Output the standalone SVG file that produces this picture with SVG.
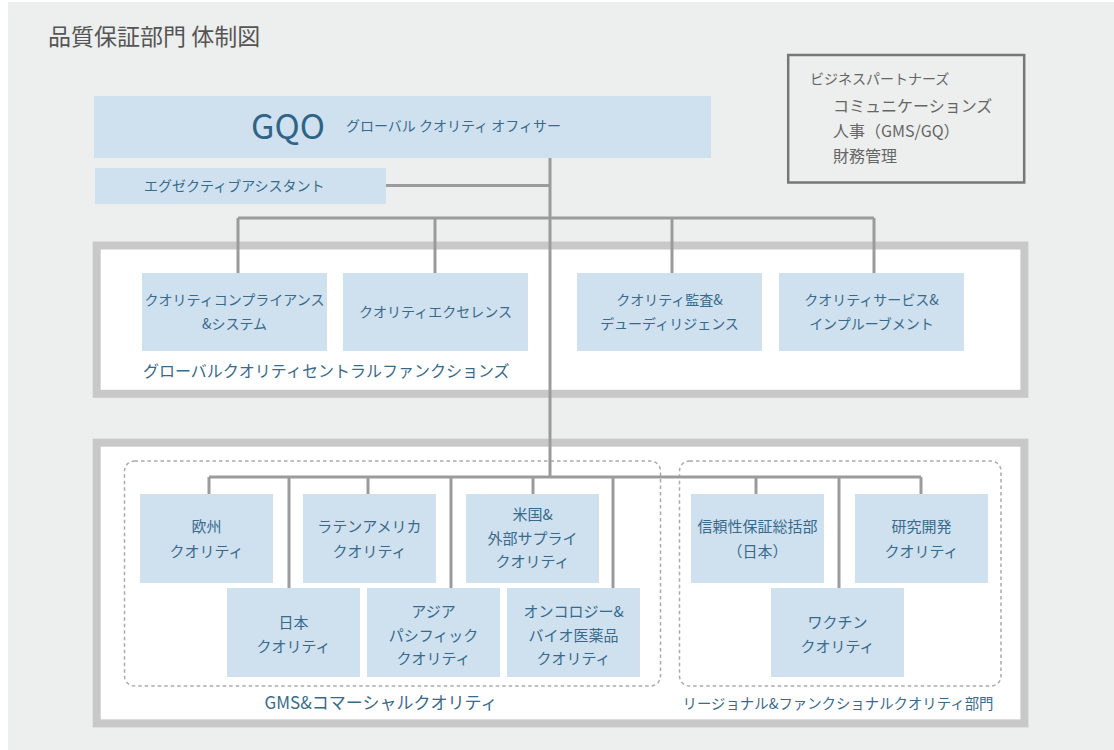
<svg xmlns="http://www.w3.org/2000/svg" width="1114" height="750" viewBox="0 0 1114 750">
<style>
text{font-family:"Noto Sans CJK JP","Noto Sans",sans-serif;}
.bg{fill:#edeeee;}
.box{fill:#cfe0ef;}
.t{fill:#386a8c;font-size:14px;text-anchor:middle;}
.g{fill:#386a8c;font-size:15px;text-anchor:middle;}
.lbl{fill:#386a8c;font-size:16px;}
.frame{fill:#ffffff;stroke:#c8c8c8;stroke-width:8;}
.dash{fill:none;stroke:#aaaaaa;stroke-width:1.5;stroke-dasharray:3.5 3;}
.conn{fill:none;stroke:#9b9b9b;stroke-width:3;}
.bp{fill:#666666;}
</style>
<rect class="bg" x="8" y="2" width="1106" height="748"/>
<text x="48" y="45" font-size="23" fill="#555555">品質保証部門 体制図</text>

<g id="business-partners">
<rect x="788.2" y="55" width="236" height="127.5" fill="none" stroke="#777777" stroke-width="2.5"/>
<text class="bp" x="810" y="84" font-size="14">ビジネスパートナーズ</text>
<text class="bp" x="833" y="112" font-size="16">コミュニケーションズ</text>
<text class="bp" x="833" y="137" font-size="16">人事（GMS/GQ）</text>
<text class="bp" x="833" y="162" font-size="16">財務管理</text>
</g>

<g id="central-functions">
<rect class="frame" x="96.7" y="245.5" width="927.7" height="148.3"/>
<text class="lbl" x="143" y="377">グローバルクオリティセントラルファンクションズ</text>
</g>

<g id="gms-frame">
<rect class="frame" x="96.7" y="442.7" width="927.7" height="280.7"/>
</g>

<g id="gms-commercial">
<rect class="dash" x="124.5" y="461" width="536" height="225" rx="10"/>
<text class="lbl" x="381" y="709" style="text-anchor:middle;font-size:17px">GMS&amp;コマーシャルクオリティ</text>
</g>

<g id="regional-functional">
<rect class="dash" x="679.5" y="461" width="321.5" height="225" rx="10"/>
<text class="lbl" x="838" y="709" style="text-anchor:middle;font-size:14.4px">リージョナル&amp;ファンクショナルクオリティ部門</text>
</g>

<g id="connectors">
<path class="conn" d="M550,157 V478"/>
<path class="conn" d="M386,185.5 H550"/>
<path class="conn" d="M238,218 H874 M238,218 V273 M435,218 V273 M672,218 V273 M874,218 V273"/>
<path class="conn" d="M209,477 H921 M209,477 V494 M289,477 V588 M368,477 V494 M451,477 V588 M533,477 V494 M613,477 V588 M756,477 V494 M839,477 V588 M921,477 V494"/>
</g>

<g id="gqo">
<rect class="box" x="94" y="96" width="617" height="62"/>
<text x="251" y="138.5" font-size="34" fill="#2f6487">GQO</text>
<text x="346" y="131" font-size="14" fill="#386a8c">グローバル クオリティ オフィサー</text>
</g>

<g id="executive-assistant">
<rect class="box" x="95" y="168" width="291" height="36"/>
<text x="144" y="191" font-size="14" fill="#386a8c">エグゼクティブアシスタント</text>
</g>

<g id="compliance">
<rect class="box" x="142" y="273" width="185" height="78"/>
<text class="t" x="234.5" y="305">クオリティコンプライアンス</text>
<text class="t" x="234.5" y="329">&amp;システム</text>
</g>

<g id="excellence">
<rect class="box" x="343" y="273" width="185" height="78"/>
<text class="t" x="435.5" y="317">クオリティエクセレンス</text>
</g>

<g id="audit">
<rect class="box" x="577" y="273" width="185" height="78"/>
<text class="t" x="669.5" y="305">クオリティ監査&amp;</text>
<text class="t" x="669.5" y="329">デューディリジェンス</text>
</g>

<g id="services">
<rect class="box" x="779" y="273" width="185" height="78"/>
<text class="t" x="871.5" y="305">クオリティサービス&amp;</text>
<text class="t" x="871.5" y="329">インプルーブメント</text>
</g>

<g id="europe">
<rect class="box" x="140" y="494" width="133" height="89"/>
<text class="g" x="206.5" y="532">欧州</text>
<text class="g" x="206.5" y="556.5">クオリティ</text>
</g>

<g id="latam">
<rect class="box" x="303" y="494" width="133" height="89"/>
<text class="g" x="369.5" y="532">ラテンアメリカ</text>
<text class="g" x="369.5" y="556.5">クオリティ</text>
</g>

<g id="us">
<rect class="box" x="466" y="494" width="133" height="89"/>
<text class="g" x="532.5" y="520">米国&amp;</text>
<text class="g" x="532.5" y="543.5">外部サプライ</text>
<text class="g" x="532.5" y="567">クオリティ</text>
</g>

<g id="japan">
<rect class="box" x="227" y="588" width="133" height="89"/>
<text class="g" x="293.5" y="628">日本</text>
<text class="g" x="293.5" y="652">クオリティ</text>
</g>

<g id="apac">
<rect class="box" x="367" y="588" width="133" height="89"/>
<text class="g" x="433.5" y="617">アジア</text>
<text class="g" x="433.5" y="640.5">パシフィック</text>
<text class="g" x="433.5" y="664">クオリティ</text>
</g>

<g id="oncology">
<rect class="box" x="507" y="588" width="133" height="89"/>
<text class="g" x="573.5" y="617">オンコロジー&amp;</text>
<text class="g" x="573.5" y="640.5">バイオ医薬品</text>
<text class="g" x="573.5" y="664">クオリティ</text>
</g>

<g id="reliability">
<rect class="box" x="691" y="494" width="133" height="89"/>
<text class="g" x="757.5" y="532">信頼性保証総括部</text>
<text class="g" x="757.5" y="556.5">（日本）</text>
</g>

<g id="rnd">
<rect class="box" x="855" y="494" width="133" height="89"/>
<text class="g" x="921.5" y="532">研究開発</text>
<text class="g" x="921.5" y="556.5">クオリティ</text>
</g>

<g id="vaccine">
<rect class="box" x="771" y="588" width="133" height="89"/>
<text class="g" x="837.5" y="628">ワクチン</text>
<text class="g" x="837.5" y="652">クオリティ</text>
</g>
</svg>
